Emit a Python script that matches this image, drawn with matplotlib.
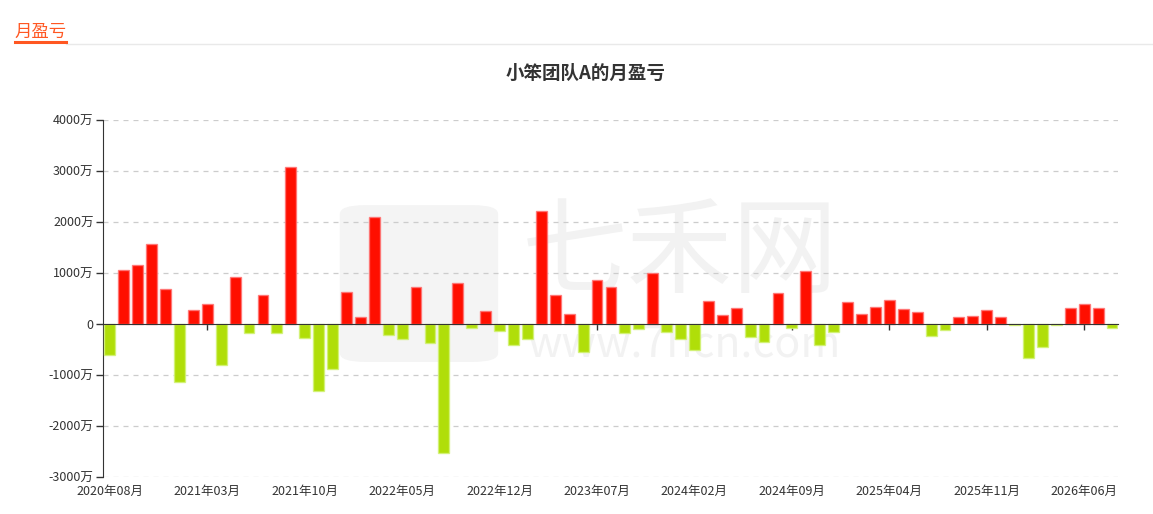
import matplotlib
matplotlib.use("Agg")
import matplotlib.pyplot as plt
from matplotlib.patches import FancyBboxPatch
from matplotlib.lines import Line2D

plt.rcParams['font.family'] = ['Noto Sans CJK SC', 'DejaVu Sans']

# ---------------- data ----------------
months = []
for y in range(2020, 2027):
    for m in range(1, 13):
        if (y == 2020 and m < 8) or (y == 2026 and m > 8):
            continue
        months.append(f"{y}年{m:02d}月")

values = [
    -600, 1050, 1150, 1575, 690, -1140, 280, 400, -810, 920,
    -185, 575, -185, 3085, -280, -1315, -890, 630, 140, 2100,
    -215, -290, 730, -375, -2535, 805, -70, 255, -135, -405,
    -295, 2215, 575, 205, -545, 870, 730, -175, -100, 1000,
    -165, -305, -510, 450, 170, 315, -260, -355, 615, -80,
    1040, -405, -155, 425, 205, 335, 470, 295, 230, -235,
    -120, 145, 155, 275, 130, -25, -675, -445, -25, 320,
    395, 315, -70,
]

title = "小笨团队A的月盈亏"
header = "月盈亏"
y_ticks = [4000, 3000, 2000, 1000, 0, -1000, -2000, -3000]
label_step = 7

pos_color = "#ff0f00"
neg_color = "#b0de09"

# ---------------- figure ----------------
fig = plt.figure(figsize=(11.53, 5.14), dpi=100)
W, H = 1153, 514
ax = fig.add_axes([103.3 / W, 1 - 476.7 / H, (1118.3 - 103.3) / W, (476.7 - 120.3) / H])

# header
fig.text(14 / W, 1 - 32 / H, header, color="#ff5722", fontsize=12.5,
         va="center", ha="left")
fig.add_artist(Line2D([66 / W, 1.0], [1 - 43.5 / H] * 2, color="#e9e9e9", lw=1.0))
fig.add_artist(Line2D([14.5 / W, 66 / W], [1 - 42 / H] * 2, color="#ff5722", lw=2.2))

# title
fig.text(586 / W, 1 - 73 / H, title, color="#333333",
         fontsize=13.3, fontweight="bold", ha="center", va="center")

# watermark
ax.text(0.568, 0.622, "七禾网", transform=ax.transAxes, fontsize=76, color="#f2f2f2",
        ha="center", va="center", zorder=0)
ax.text(0.573, 0.37, "www.7hcn.com", transform=ax.transAxes, fontsize=31, color="#f2f2f2",
        ha="center", va="center", zorder=0)
logo = FancyBboxPatch((0.233, 0.322), 0.156, 0.44, boxstyle="round,pad=0,rounding_size=0.025",
                      transform=ax.transAxes, facecolor="#f4f4f4", edgecolor="none", zorder=0)
ax.add_patch(logo)

x = list(range(len(values)))
colors = [pos_color if v >= 0 else neg_color for v in values]
edge = [(1.0, 0.45, 0.45, 0.8) if v >= 0 else (0.82, 0.95, 0.45, 0.8) for v in values]
ax.bar(x, values, width=0.78, color=colors, edgecolor=edge, linewidth=1.0, zorder=3)

ax.set_xlim(-0.47, len(values) - 0.55)
ax.set_ylim(min(y_ticks), max(y_ticks))

# gridlines
ax.set_yticks(y_ticks)
ax.set_yticklabels([("0" if t == 0 else f"{t}万") for t in y_ticks],
                   fontsize=9, color="#333333")
for t in y_ticks:
    if t != 0:
        ax.axhline(t, color="#cccccc", lw=0.9, ls=(0, (4, 4)), zorder=1)

ax.tick_params(axis="y", length=5, width=1, color="#333333", pad=2)

# x axis spine at zero with ticks on labelled categories
ax.spines["bottom"].set_position(("data", 0))
ax.spines["bottom"].set_color("#333333")
ax.spines["bottom"].set_zorder(4)
ax.spines["left"].set_color("#333333")
ax.spines["top"].set_visible(False)
ax.spines["right"].set_visible(False)
lab_idx = list(range(0, len(values), label_step))
ax.set_xticks(lab_idx)
ax.set_xticklabels([])
ax.tick_params(axis="x", length=4, width=1, color="#333333", direction="out")

# labels along the bottom
ax2 = ax.twiny()
ax2.set_xlim(ax.get_xlim())
ax2.xaxis.set_ticks_position("bottom")
ax2.xaxis.set_label_position("bottom")
ax2.set_xticks(lab_idx)
ax2.set_xticklabels([months[i] for i in lab_idx], fontsize=9, color="#333333")
ax2.tick_params(axis="x", length=0, pad=6)
for s in ax2.spines.values():
    s.set_visible(False)

fig.savefig("out.png", dpi=100)
